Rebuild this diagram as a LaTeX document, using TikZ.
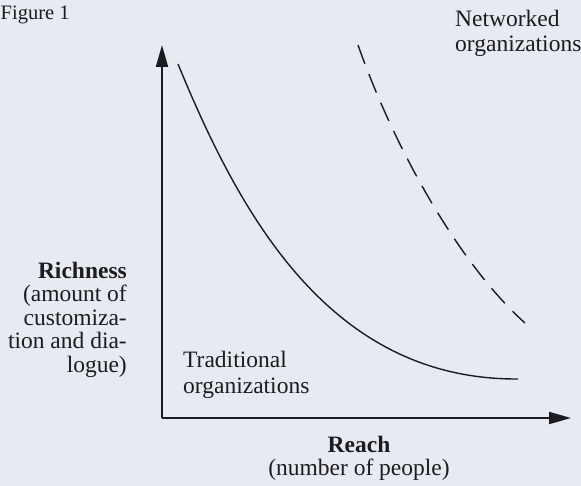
\documentclass[tikz,border=0pt]{standalone}
\usepackage{fontspec}
\setmainfont{Liberation Serif}
\usetikzlibrary{arrows.meta}
\definecolor{paper}{RGB}{232,234,241}
\definecolor{ink}{RGB}{28,28,32}

\begin{document}
\begin{tikzpicture}[x=1pt,y=-1pt,
    axis/.style={ink,line width=2pt,-{Triangle[length=22pt,width=12pt]}},
    curve/.style={ink,line width=1.4pt},
    lbl/.style={ink,inner sep=0pt,font=\fontsize{23.5}{25.5}\selectfont}]
      \fill[paper] (0,0) rectangle (581,486);
      \useasboundingbox (0,0) rectangle (581,486);
      % axes
      \coordinate (O) at (162,418);
      \coordinate (ytop) at (162,45);
      \coordinate (xend) at (571,418);
      \draw[axis] (O) -- (ytop);
      \draw[axis] (O) -- (xend);
      % the two curves
      \coordinate (tradA) at (178,64);
      \coordinate (tradB) at (518,379);
      \draw[curve] (tradA) .. controls (240,215) and (330,380) .. (tradB);
      \coordinate (netA) at (358,45);
      \coordinate (netB) at (525,323);
      \draw[curve,dash pattern=on 20pt off 11pt] (netA) .. controls (395,150) and (460,265) .. (netB);
      % labels (base = baseline of the last line)
      \node[lbl,anchor=base west,font=\fontsize{20.5}{22}\selectfont] (fig) at (0.5,20) {Figure 1};
      \node[lbl,anchor=base west,align=left] (netlbl) at (455,52) {Networked\\organizations};
      \node[lbl,anchor=base west,align=left] (tradlbl) at (183,393) {Traditional\\organizations};
      \node[lbl,anchor=base east,align=right,font=\fontsize{23.5}{23.5}\selectfont] (richlbl) at (127,372)
           {\textbf{Richness}\\(amount of\\customiza-\\tion and dia-\\logue)};
      \node[lbl,anchor=base,align=center,font=\fontsize{23.5}{22.5}\selectfont] (reachlbl) at (359,475)
           {\textbf{Reach}\\(number of people)};
\end{tikzpicture}
\end{document}
